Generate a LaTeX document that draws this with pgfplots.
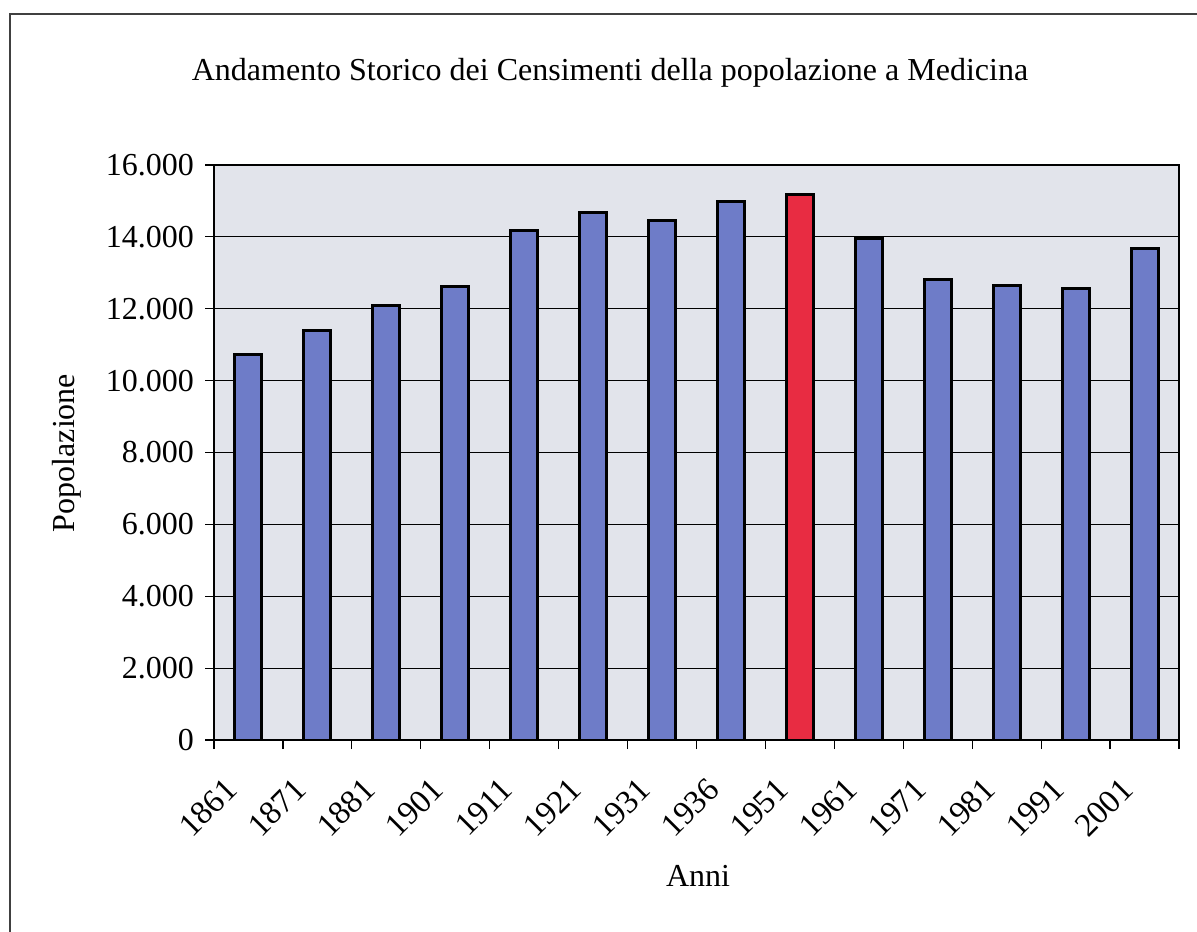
\documentclass[border=0pt]{standalone}
\usepackage{fontspec}
\setmainfont{Liberation Serif}
\usepackage{pgfplots}
\pgfplotsset{compat=1.18}
\definecolor{plotbg}{RGB}{226,228,235}
\definecolor{barblue}{RGB}{110,124,200}
\definecolor{barred}{RGB}{232,44,66}

\begin{document}
\begin{tikzpicture}
\begin{axis}[
  at={(107pt,95.5pt)}, anchor=south west,
  scale only axis,
  width=482.5pt, height=287.5pt,
  axis background/.style={fill=plotbg},
  xmin=-0.5, xmax=13.5,
  ymin=0, ymax=16000,
  ytick={0,2000,...,16000},
  scaled y ticks=false,
  /pgf/number format/1000 sep={.},
  /pgf/number format/assume math mode=true,
  yticklabel style={font=\fontsize{16}{18}\selectfont, xshift=-2pt},
  ymajorgrids,
  grid style={black, line width=0.5pt},
  tick align=outside,
  tick pos=left,
  major tick length=4.5pt,
  tick style={black, line width=0.6pt},
  xtick={-0.5,0.5,...,13.5},
  xticklabels={},
  extra x ticks={0,1,...,13},
  extra x tick labels={1861,1871,1881,1901,1911,1921,1931,1936,1951,1961,1971,1981,1991,2001},
  extra x tick style={major tick length=0pt, grid=none},
  xticklabel style={font=\fontsize{16.5}{18}\selectfont, xshift=-8.5pt, rotate=45, anchor=east, inner sep=0pt},
  xticklabel shift=22pt,
  axis line style={black, line width=0.6pt},
  ybar, bar width=13.5pt,
]
\addplot[fill=barblue, draw=black, line width=1.5pt, bar shift=0pt] coordinates {
  (0,10720) (1,11390) (2,12080) (3,12610) (4,14190) (5,14680) (6,14450)
  (7,14980) (9,13950) (10,12800) (11,12650) (12,12560) (13,13680)
};
\addplot[fill=barred, draw=black, line width=1.5pt, bar shift=0pt] coordinates {
  (8,15190)
};
\end{axis}
\node[anchor=base, font=\fontsize{16}{18}\selectfont] at (305pt,425pt)
  {Andamento Storico dei Censimenti della popolazione a Medicina};
\node[rotate=90, font=\fontsize{16}{18}\selectfont] at (33.5pt,239pt) {Popolazione};
\node[anchor=base, font=\fontsize{16}{18}\selectfont] at (349pt,22.5pt) {Anni};
\draw[black!75, line width=0.6pt] (5pt,-5pt) -- (5pt,458.5pt) -- (605pt,458.5pt);
\pgfresetboundingbox
\path (0,0) rectangle (598.5pt,465.5pt);
\end{tikzpicture}
\end{document}
